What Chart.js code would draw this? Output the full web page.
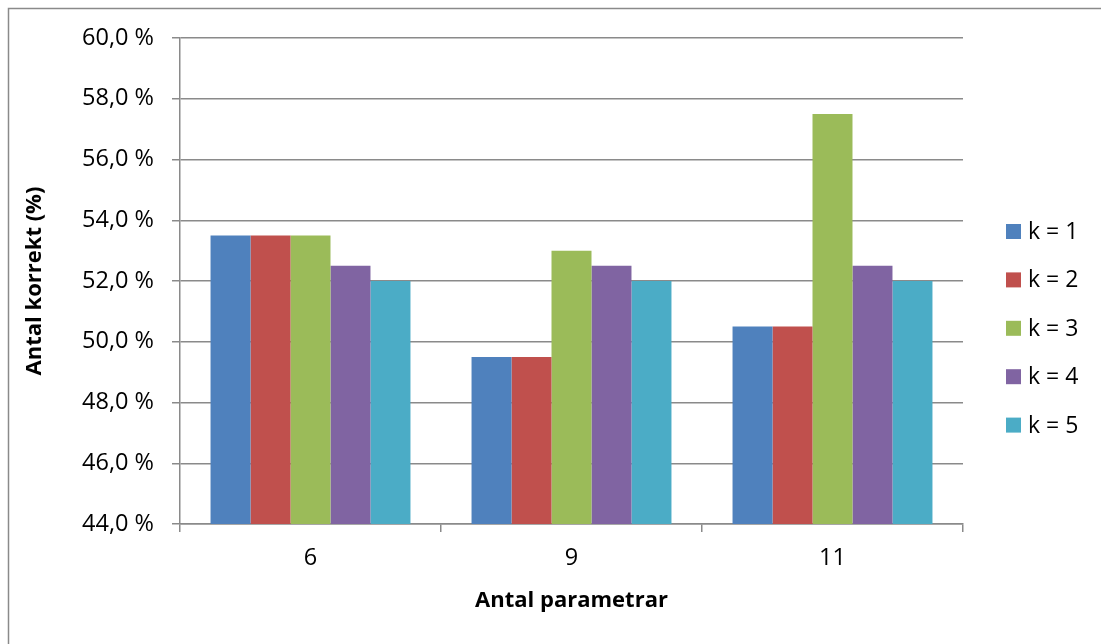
<!DOCTYPE html>
<html>
<head>
<meta charset="utf-8">
<script src="https://cdn.jsdelivr.net/npm/chart.js@4.4.1/dist/chart.umd.min.js"></script>
<style>
  html, body { margin: 0; padding: 0; background: #ffffff; }
  #wrap { width: 1101px; height: 644px; }
</style>
</head>
<body>
<div id="wrap"><canvas id="c" width="1101" height="644"></canvas></div>
<script>
// Share of correct classifications per parameter count, one series per k
const categories = ['6', '9', '11'];
const seriesLabels = ['k = 1', 'k = 2', 'k = 3', 'k = 4', 'k = 5'];
const k1 = [53.5, 49.5, 50.5];
const k2 = [53.5, 49.5, 50.5];
const k3 = [53.5, 53.0, 57.5];
const k4 = [52.5, 52.5, 52.5];
const k5 = [52.0, 52.0, 52.0];
const seriesColors = ['#4F81BD', '#C0504D', '#9BBB59', '#8064A2', '#4BACC6'];
const yMin = 44, yMax = 60, yStep = 2;
const yTitle = 'Antal korrekt (%)';
const xTitle = 'Antal parametrar';

const FONT = '"Open Sans", Lato, sans-serif';
const GRID = '#8a8a8a';
const LABEL_SIZE = 23.5;
const TITLE_SIZE = 22;

const seriesValues = [k1, k2, k3, k4, k5];
const datasets = seriesValues.map((vals, i) => ({
  label: seriesLabels[i],
  data: vals,
  backgroundColor: seriesColors[i],
  borderWidth: 0,
  categoryPercentage: 0.766,
  barPercentage: 1.0
}));

// Outer chart frame
const framePlugin = {
  id: 'frame',
  beforeDraw(chart) {
    const ctx = chart.ctx;
    ctx.save();
    ctx.fillStyle = '#ffffff';
    ctx.fillRect(0, 0, chart.width, chart.height);
    ctx.strokeStyle = '#8a8a8a';
    ctx.lineWidth = 1.5;
    ctx.strokeRect(8.5, 8.5, chart.width + 50, chart.height + 50);
    ctx.restore();
  }
};

// Legend on the right, built from the datasets
const sideLegend = {
  id: 'sideLegend',
  afterDraw(chart) {
    const ctx = chart.ctx;
    const x0 = 1006, y0 = 231.5, gap = 48.4, box = 15;
    ctx.save();
    ctx.font = '23px ' + FONT;
    ctx.textBaseline = 'middle';
    ctx.textAlign = 'left';
    chart.data.datasets.forEach((ds, i) => {
      const y = y0 + i * gap;
      ctx.fillStyle = ds.backgroundColor;
      ctx.fillRect(x0, y - box / 2, box, box);
      ctx.fillStyle = '#000000';
      ctx.fillText(ds.label, x0 + 22, y + 1);
    });
    ctx.restore();
  }
};

new Chart(document.getElementById('c'), {
  type: 'bar',
  data: { labels: categories, datasets },
  options: {
    responsive: false,
    animation: false,
    layout: { padding: { left: 20, top: 38, right: 138, bottom: 0 } },
    plugins: {
      legend: { display: false },
      tooltip: { enabled: false }
    },
    scales: {
      x: {
        afterFit(scale) { scale.height = 120; },
        grid: {
          display: true,
          offset: true,
          drawOnChartArea: false,
          drawTicks: true,
          tickLength: 8,
          color: GRID,
          lineWidth: 1.5
        },
        border: { display: true, color: GRID, width: 1.5 },
        ticks: {
          color: '#000000',
          font: { family: FONT, size: LABEL_SIZE },
          padding: 12
        },
        title: {
          display: true,
          text: xTitle,
          color: '#000000',
          font: { family: FONT, size: TITLE_SIZE, weight: 'bold' },
          padding: { top: 4, bottom: 30 }
        }
      },
      y: {
        min: yMin,
        max: yMax,
        afterFit(scale) { scale.width = 160; },
        grid: {
          display: true,
          drawOnChartArea: true,
          drawTicks: true,
          tickLength: 8,
          color: GRID,
          lineWidth: 1.5
        },
        border: { display: true, color: GRID, width: 1.5 },
        ticks: {
          stepSize: yStep,
          color: '#000000',
          font: { family: FONT, size: LABEL_SIZE },
          padding: 18,
          callback: v => v.toFixed(1).replace('.', ',') + ' %'
        },
        title: {
          display: true,
          text: yTitle,
          color: '#000000',
          font: { family: FONT, size: TITLE_SIZE, weight: 'bold' },
          padding: { top: 2, bottom: 4 }
        }
      }
    }
  },
  plugins: [framePlugin, sideLegend]
});
</script>
</body>
</html>
